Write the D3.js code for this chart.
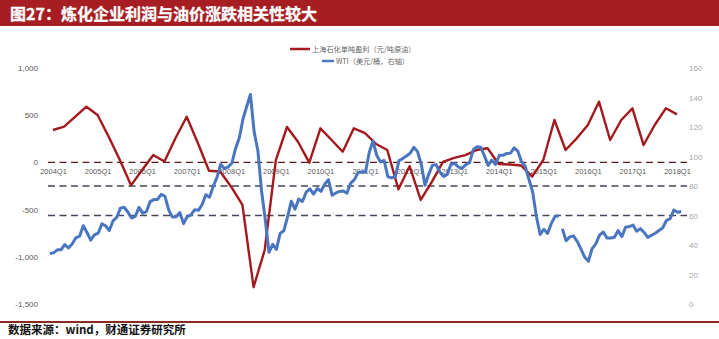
<!DOCTYPE html>
<html>
<head>
<meta charset="utf-8">
<script src="https://cdn.jsdelivr.net/npm/d3@7"></script>
<style>
  html, body { margin: 0; padding: 0; background: #fff; }
  svg { display: block; }
  .ax text { font-family: "Liberation Sans", Arial, sans-serif; }
</style>
</head>
<body>
<svg id="chart" width="719" height="339"></svg>
<script>
// quarterly profit of Shanghai Petrochemical, yuan per tonne of crude
var quarters = [];
for (var yr = 2004; yr <= 2018; yr++) {
    for (var q = 1; q <= 4; q++) {
        if (yr === 2018 && q > 1) break;
        quarters.push(yr + "Q" + q);
    }
}
var profit = [
    343, 378, 484, 590, 502, 272, 25, -243, -80, 78, 10, 258,
    484, 205, -88, -96, -260, -451, -1322, -928, 25, 375, 216, -3,
    361, 237, 113, 361, 311, 195, 131, -285, -40, -398, -207, 5,
    47, 78, 131, 150, -17, -22, -33, -151, 25, 449, 131, 255,
    396, 643, 237, 449, 573, 184, 396, 573, 509
];

// WTI monthly, usd per barrel, from 2004-01
var wtiStart = 2004;
var wti = [
    34.3, 34.7, 36.7, 36.7, 40.3, 38.0, 40.7, 44.9, 46.0, 53.1, 48.5, 43.3,
    46.8, 48.0, 54.3, 53.0, 49.8, 56.3, 58.7, 65.0, 65.6, 62.4, 58.3, 59.4,
    65.5, 61.6, 62.7, 69.4, 70.8, 70.9, 74.4, 73.0, 63.8, 58.9, 59.1, 62.0,
    54.5, 59.3, 60.4, 63.9, 63.5, 67.5, 74.1, 72.4, 79.9, 85.8, 94.8, 91.7,
    93.0, 95.4, 105.5, 112.6, 125.4, 133.9, 142.0, 116.7, 104.1, 76.6, 57.3, 35.0,
    40.5, 37.0, 47.9, 49.7, 59.0, 69.7, 64.3, 71.1, 69.5, 75.8, 78.1, 74.5,
    78.3, 76.4, 81.2, 84.3, 73.7, 75.3, 76.3, 76.6, 75.2, 81.9, 84.3, 89.2,
    89.5, 89.6, 102.9, 110.5, 100.9, 96.3, 97.3, 86.3, 85.5, 86.3, 97.2, 98.6,
    100.3, 102.2, 106.2, 103.3, 94.7, 80.5, 87.9, 94.1, 94.5, 89.5, 86.5, 87.9,
    94.8, 95.3, 92.9, 92.0, 94.5, 95.8, 104.6, 106.6, 106.3, 100.5, 93.9, 97.6,
    94.6, 100.8, 100.8, 102.1, 102.2, 105.8, 103.6, 96.5, 93.2, 84.4, 75.8, 59.3,
    47.2, 50.6, 47.8, 54.5, 59.3, 59.8, 50.9, 42.9, 45.5, 46.2, 42.4, 37.2,
    31.7, 29.0, 37.5, 40.8, 46.7, 48.8, 44.7, 44.7, 45.2, 49.8, 45.7, 52.0,
    52.5, 53.5, 49.3, 51.1, 48.5, 45.2, 46.6, 48.0, 49.8, 51.6, 56.6, 57.9,
    63.7, 62.2, 62.7
];
var wtiGapAfter = ["2015-06"];   // the line is broken here in the source

var leftTicks = [-1500, -1000, -500, 0, 500, 1000];
var rightTicks = [0, 20, 40, 60, 80, 100, 120, 140, 160];
var refLinesRight = [80, 60];
var seriesNames = ["上海石化单吨盈利（元/吨原油）", "WTI（美元/桶，右轴）"];
var title = "图27：炼化企业利润与油价涨跌相关性较大";
var source = "数据来源：wind，财通证券研究所";

var red = "#a3191e", blue = "#4a76c0";
var cjk = "'Noto Sans CJK SC', 'Noto Sans', sans-serif";

var svg = d3.select("#chart");

// title bar
svg.append("rect").attr("x", 0).attr("y", 0).attr("width", 719).attr("height", 26).attr("fill", "#a61e22");
svg.append("text").attr("x", 10).attr("y", 19.5).text(title)
    .attr("fill", "#fff").attr("font-family", cjk).attr("font-weight", "bold").attr("font-size", 16)
    .attr("stroke", "#fff").attr("stroke-width", 0.3);

var yL = d3.scaleLinear().domain([-1500, 1000]).range([304, 68]);
var yR = d3.scaleLinear().domain([0, 160]).range([304, 68]);
var xQ = d3.scalePoint().domain(quarters).range([53, 677]);
var xT = d3.scaleLinear().domain([2004, 2018.25]).range([48, 48 + 14.25 * 44.57]);

// dashed reference lines
svg.append("line").attr("x1", 48).attr("x2", 687).attr("y1", yL(0)).attr("y2", yL(0))
    .attr("stroke", "#5c1a1a").attr("stroke-width", 1.4).attr("stroke-dasharray", "7,4.5");
refLinesRight.forEach(function (v) {
    svg.append("line").attr("x1", 48).attr("x2", 687).attr("y1", yR(v)).attr("y2", yR(v))
        .attr("stroke", "#45455a").attr("stroke-width", 1.4).attr("stroke-dasharray", "7,4.5");
});

// axes
var fmt = function (d) { return d3.format(",")(d).replace("\u2212", "-"); };
var gl = svg.append("g").attr("class", "ax").attr("transform", "translate(48,0)")
    .call(d3.axisLeft(yL).tickValues(leftTicks).tickFormat(fmt).tickSize(0).tickPadding(10));
gl.select(".domain").remove();
gl.selectAll("text").attr("font-size", 8).attr("fill", "#595959");

var gr = svg.append("g").attr("class", "ax").attr("transform", "translate(688,0)")
    .call(d3.axisRight(yR).tickValues(rightTicks).tickSize(0).tickPadding(1));
gr.select(".domain").remove();
gr.selectAll("text").attr("font-size", 8).attr("fill", "#a6a6a6");

var gx = svg.append("g").attr("class", "ax").attr("transform", "translate(0," + yL(0) + ")")
    .call(d3.axisBottom(xQ).tickValues(quarters.filter(function (q) { return q.slice(-2) === "Q1"; }))
        .tickSize(0).tickPadding(6));
gx.select(".domain").remove();
gx.selectAll("text").attr("font-size", 7.5).attr("fill", "#595959");

// profit line
var redLine = d3.line().x(function (d, i) { return xQ(quarters[i]); }).y(function (d) { return yL(d); });
svg.append("path").datum(profit).attr("d", redLine)
    .attr("fill", "none").attr("stroke", red).attr("stroke-width", 2.4).attr("stroke-linejoin", "round");

// wti line
var pts = [];
wti.forEach(function (v, i) {
    var yy = wtiStart + Math.floor(i / 12), m = i % 12 + 1;
    pts.push({ t: yy + (m - 0.5) / 12, v: v });
    var key = yy + "-" + (m < 10 ? "0" + m : m);
    if (wtiGapAfter.indexOf(key) >= 0) pts.push({ t: yy + m / 12, v: null });
});
var blueLine = d3.line().defined(function (d) { return d.v !== null; })
    .x(function (d) { return xT(d.t); }).y(function (d) { return yR(d.v); });
svg.append("path").datum(pts).attr("d", blueLine)
    .attr("fill", "none").attr("stroke", blue).attr("stroke-width", 3).attr("stroke-linejoin", "round");

// legend
var leg = [{ x: 290, y: 49, c: red }, { x: 322, y: 61, c: blue }];
leg.forEach(function (l, i) {
    svg.append("line").attr("x1", l.x).attr("x2", l.x + (i === 0 ? 20 : 12)).attr("y1", l.y).attr("y2", l.y)
        .attr("stroke", l.c).attr("stroke-width", 2.5);
    svg.append("text").attr("x", l.x + (i === 0 ? 22 : 14)).attr("y", l.y + 2.5).text(seriesNames[i])
        .attr("font-family", cjk).attr("font-size", 7.2).attr("fill", "#666");
});

// footer
svg.append("line").attr("x1", 0).attr("x2", 719).attr("y1", 322).attr("y2", 322)
    .attr("stroke", "#8a2a22").attr("stroke-width", 2);
svg.append("text").attr("x", 8).attr("y", 334).text(source)
    .attr("font-family", cjk).attr("font-weight", "bold").attr("font-size", 11.5).attr("fill", "#111");
</script>
</body>
</html>
